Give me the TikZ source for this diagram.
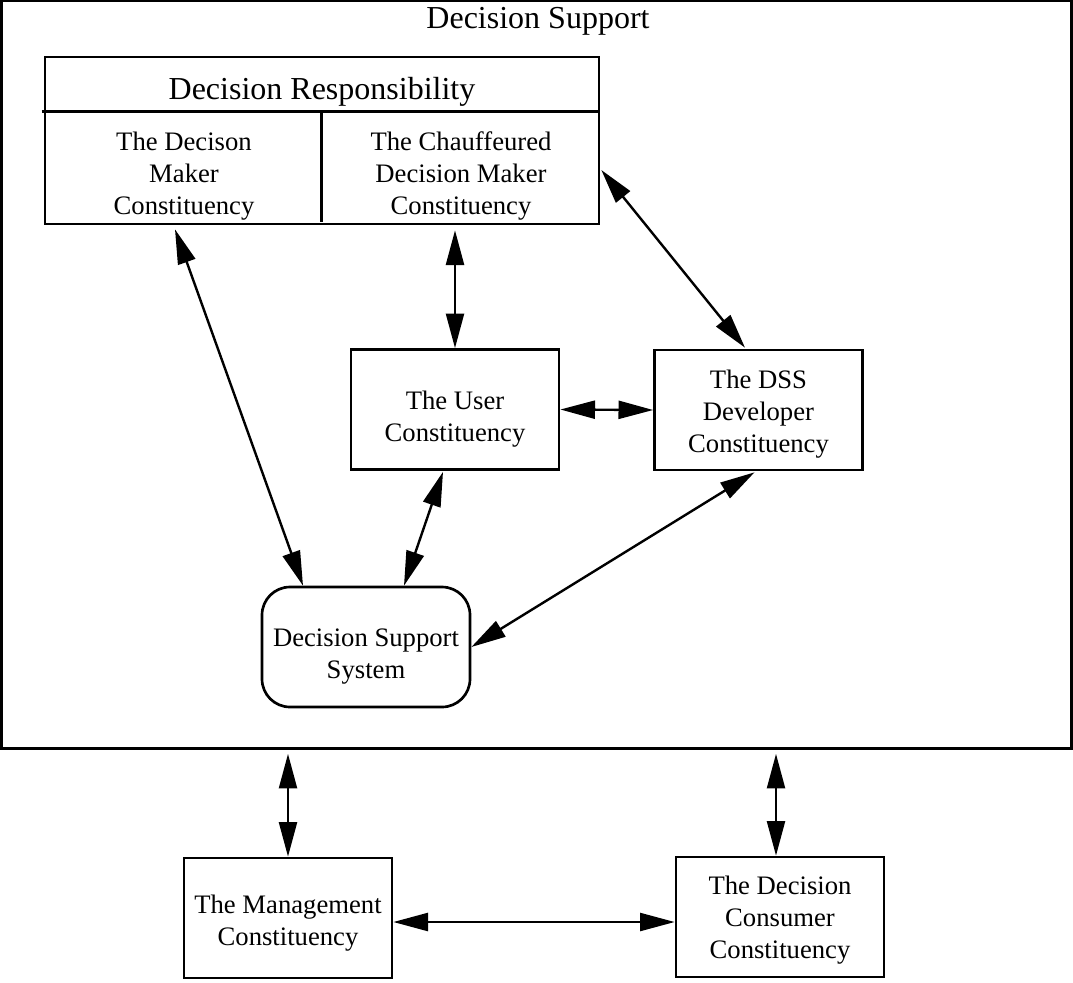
\documentclass[tikz,border=0pt]{standalone}
\usepackage{fontspec}
\setmainfont{Liberation Serif}
\usetikzlibrary{arrows.meta,calc}

\begin{document}
\begin{tikzpicture}[x=0.75pt,y=-0.75pt] % one unit = one pixel of the sketch
	\tikzset{box/.style={draw,line width=2pt,minimum width=156pt,minimum height=90pt}}
	\tikzset{txt/.style={align=center,font=\fontsize{20}{24}\selectfont}}
	\tikzset{link/.style={{Triangle[length=26pt,width=13.5pt]}-{Triangle[length=26pt,width=13.5pt]},line width=1.8pt}}
	
	\useasboundingbox (0,0) rectangle (1073,982);
	
	% Outer frame and its title
	\node[draw,line width=2pt,minimum width=802.5pt,minimum height=560.6pt] (support) at (536.5,374.75) {};
	\node[font=\fontsize{24}{28}\selectfont,anchor=base] (title) at (538,28) {Decision Support};
	
	% Decision responsibility block
	\node[draw,line width=2pt,minimum width=415.5pt,minimum height=125.25pt] (resp) at (322,140.5) {};
	\node[font=\fontsize{24}{28}\selectfont,anchor=base] (resptitle) at (322,99) {Decision Responsibility};
	\draw[line width=2pt] ($(resp.north west)+(-2,56)$) -- ($(resp.north east)+(0,56)$);
	\draw[line width=2pt] ($(resp.north west)+(277.7,56)$) -- ($(resp.south west)+(277.7,-3)$);
	\node[txt] (maker) at (184,176) {The Decison\\Maker\\Constituency};
	\node[txt] (chauf) at (461,176) {The Chauffeured\\Decision Maker\\Constituency};
	
	% Constituencies inside the frame
	\node[box] (user) at (455,409.5) {};
	\node[txt] (usertxt) at ($(user)+(0,10)$) {The User\\Constituency};
	\node[box] (dev) at (758.5,410) {};
	\node[txt] (devtxt) at ($(dev)+(0,4)$) {The DSS\\Developer\\Constituency};
	\node[box,rounded corners=21pt] (dss) at (366,647) {};
	\node[txt] (dsstxt) at ($(dss)+(0,10)$) {Decision Support\\System};
	
	% Constituencies outside the frame
	\node[box] (mgmt) at (288,918) {};
	\node[txt] (mgmttxt) at ($(mgmt)+(0,5)$) {The Management\\Constituency};
	\node[box] (cons) at (780,917) {};
	\node[txt] (constxt) at ($(cons)+(0,3)$) {The Decision\\Consumer\\Constituency};
	
	% Connections
	\draw[link] ($(resp.south)+(-147,4)$) -- ($(dss.north)+(-63,0)$);
	\draw[link] ($(resp.south)+(133,5)$) -- (user.north);
	\draw[link] ($(resp.east)+(1,29.5)$) -- ($(dev.north)+(-13.5,-1)$);
	\draw[link] (user.east) -- (dev.west);
	\draw[link] ($(user.south)+(-12,1)$) -- ($(dss.north)+(38,0)$);
	\draw[link] ($(dev.south)+(-4,1)$) -- (dss.east);
	\draw[link] ($(mgmt.north |- support.south)+(0,4)$) -- (mgmt.north);
	\draw[link] ($(cons.north |- support.south)+(-4,4)$) -- ($(cons.north)+(-4,0)$);
	\draw[link] ($(mgmt.east)+(0,4)$) -- ($(cons.west)+(0,5)$);
\end{tikzpicture}
\end{document}
